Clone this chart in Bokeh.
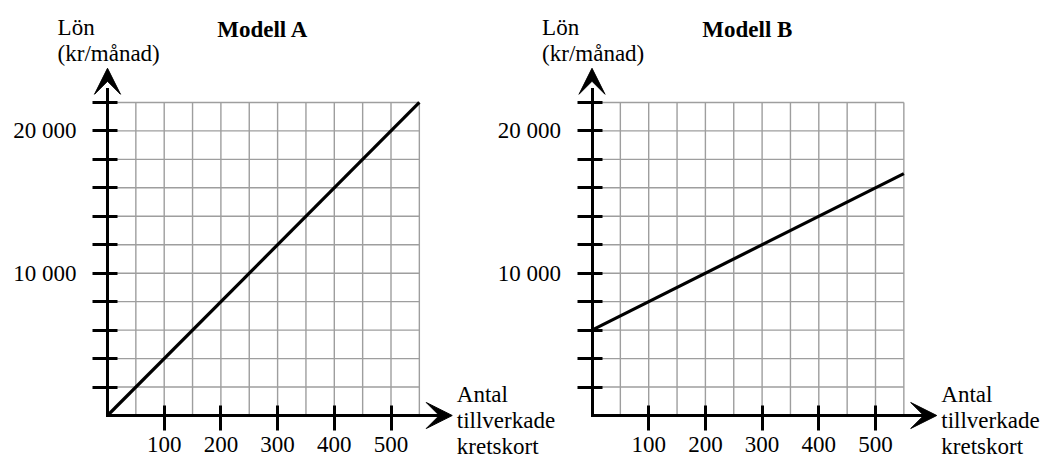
import numpy as np
from bokeh.plotting import figure
from bokeh.models import (Range1d, LinearAxis, FixedTicker, Arrow, VeeHead, Label)
from bokeh.embed import file_html
from bokeh.resources import INLINE

# ---- data ----
antal = [0, 550]                 # tillverkade kretskort
lon_a = [0, 22000]               # Modell A, kr/månad
lon_b = [6000, 17000]            # Modell B, kr/månad
x_ticks = [100, 200, 300, 400, 500]
x_tick_labels = ["100", "200", "300", "400", "500"]
y_ticks = [2000, 4000, 6000, 8000, 10000, 12000, 14000, 16000, 18000, 20000, 22000]
y_tick_labels = {10000: "10 000", 20000: "20 000"}
titles = ["Modell A", "Modell B"]
y_label = ["Lön", "(kr/månad)"]
x_label = ["Antal", "tillverkade", "kretskort"]

# ---- layout (pixel geometry) ----
W, H = 1042, 461
SX = 0.567        # px per unit (x)
SY = 0.01423      # px per kr (y)
ORIG_A = 107.0    # canvas px of x origin, chart A
ORIG_B = 591.5    # canvas px of x origin, chart B
ORIG_Y = 415.0    # canvas px (from top) of y origin
FONT = "Liberation Serif"
FS = "23px"

x_a = Range1d(-ORIG_A / SX, (W - ORIG_A) / SX)
x_b = Range1d(-ORIG_B / SX, (W - ORIG_B) / SX)
y_r = Range1d(-(H - ORIG_Y) / SY, ORIG_Y / SY)

p = figure(width=W, height=H, x_range=x_a, y_range=y_r,
           x_axis_type=None, y_axis_type=None,
           output_backend="svg", toolbar_location=None, min_border=0)
p.extra_x_ranges = {"b": x_b}
p.outline_line_color = None
p.background_fill_color = "white"
p.border_fill_color = "white"

x_max = antal[-1]
y_max = y_ticks[-1]
gx = np.arange(50, x_max + 1, 50)
gy = np.arange(2000, y_max + 1, 2000)
x_tip = 608
y_tip = 24400

for rname, lon, title in [("default", lon_a, titles[0]), ("b", lon_b, titles[1])]:
    # grid
    p.segment(x0=gx, y0=0, x1=gx, y1=y_max, line_color="#9e9e9e", line_width=1.4,
              x_range_name=rname)
    p.segment(x0=0, y0=gy, x1=x_max, y1=gy, line_color="#9e9e9e", line_width=1.4,
              x_range_name=rname)

    # axes
    xa = LinearAxis(x_range_name=rname, fixed_location=0,
                    ticker=FixedTicker(ticks=x_ticks),
                    major_label_overrides={t: l for t, l in zip(x_ticks, x_tick_labels)},
                    bounds=(0, x_tip - 22))
    ya = LinearAxis(x_range_name=rname, fixed_location=0,
                    ticker=FixedTicker(ticks=y_ticks),
                    major_label_overrides={t: y_tick_labels.get(t, "") for t in y_ticks},
                    bounds=(0, y_tip - 1500))
    for ax in (xa, ya):
        ax.axis_line_width = 3
        ax.axis_line_color = "black"
        ax.axis_line_cap = "square"
        ax.major_tick_line_width = 3
        ax.major_tick_line_color = "black"
        ax.major_tick_in = 10
        ax.major_tick_out = 15
        ax.minor_tick_line_color = None
        ax.major_label_text_font = FONT
        ax.major_label_text_font_size = FS
        ax.major_label_text_color = "black"
    xa.major_label_standoff = 6
    ya.major_label_standoff = 16
    p.add_layout(xa, "below")
    p.add_layout(ya, "left")

    # arrow heads
    p.add_layout(Arrow(x_start=0, y_start=y_max, x_end=0, y_end=y_tip,
                       x_range_name=rname, line_color=None,
                       end=VeeHead(size=26, fill_color="black", line_color="black",
                                   line_width=1)))
    p.add_layout(Arrow(x_start=x_max, y_start=0, x_end=x_tip, y_end=0,
                       x_range_name=rname, line_color=None,
                       end=VeeHead(size=26, fill_color="black", line_color="black",
                                   line_width=1)))

    # data line
    p.line(x=antal, y=lon, line_color="black", line_width=3.2, x_range_name=rname)

    # texts
    p.add_layout(Label(x=274, y=27100, text=title, text_font=FONT, text_font_size=FS,
                       text_font_style="bold", text_align="center", text_color="black",
                       text_baseline="alphabetic", x_range_name=rname))
    p.add_layout(Label(x=-88, y=27250, text=y_label[0], text_font=FONT, text_font_size=FS,
                       text_baseline="alphabetic", text_color="black", x_range_name=rname))
    p.add_layout(Label(x=-88, y=25420, text=y_label[1], text_font=FONT, text_font_size=FS,
                       text_baseline="alphabetic", text_color="black", x_range_name=rname))
    for i, t in enumerate(x_label):
        p.add_layout(Label(x=616, y=1476 - i * 1827, text=t, text_font=FONT,
                           text_font_size=FS, text_baseline="alphabetic",
                           text_color="black", x_range_name=rname))

open("out.html", "w").write(file_html(p, INLINE))
